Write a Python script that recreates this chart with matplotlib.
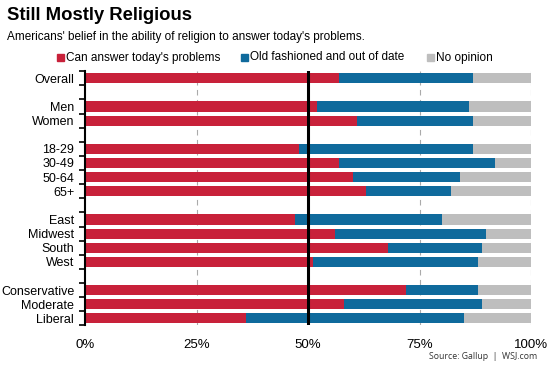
import numpy as np
import matplotlib.pyplot as plt
from matplotlib.patches import Rectangle

plt.rcParams['font.family'] = ['Liberation Sans', 'DejaVu Sans']

# Daten (Prozent)
labels = ["Overall", "", "Men", "Women", "", "18-29", "30-49", "50-64", "65+", "",
          "East", "Midwest", "South", "West", "", "Conservative", "Moderate", "Liberal"]
can_answer = [57, 0, 52, 61, 0, 48, 57, 60, 63, 0, 47, 56, 68, 51, 0, 72, 58, 36]
old_fashioned = [30, 0, 34, 26, 0, 39, 35, 24, 19, 0, 33, 34, 21, 37, 0, 16, 31, 49]
no_opinion = [13, 0, 14, 13, 0, 13, 8, 16, 18, 0, 20, 10, 11, 12, 0, 12, 11, 15]
x_ticks = [0, 25, 50, 75, 100]

red = "#C8213A"
blue = "#0F6A9C"
gray = "#BEBEBE"

fig = plt.figure(figsize=(5.53, 3.69), dpi=100)
ax = fig.add_axes([0.1543, 0.1182, 0.8059, 0.6888])

y = np.arange(len(labels))
can = np.array(can_answer)
old = np.array(old_fashioned)
no = np.array(no_opinion)

ax.barh(y, can, height=0.72, color=red, zorder=2)
ax.barh(y, old, left=can, height=0.72, color=blue, zorder=2)
ax.barh(y, no, left=can + old, height=0.72, color=gray, zorder=2)

ax.set_xlim(0, 100)
ax.set_ylim(len(labels) - 0.5, -0.5)

# Gitterlinien
for v in [25, 75, 100]:
    ax.axvline(v, color="#AAAAAA", lw=0.8, ls=(0, (5, 4)), zorder=1)
ax.axvline(50, color="black", lw=2.2, zorder=3)

ax.set_yticks(y)
ax.set_yticklabels(labels, fontsize=9)
ax.set_yticks(np.arange(-0.5, len(labels)), minor=True)
ax.tick_params(axis="y", which="major", length=0, pad=8)
ax.tick_params(axis="y", which="minor", length=4, width=1.2, direction="out")

ax.set_xticks(x_ticks)
ax.set_xticklabels([f"{v}%" for v in x_ticks], fontsize=9.5)
ax.tick_params(axis="x", length=0, pad=10)

for s in ["top", "right", "bottom"]:
    ax.spines[s].set_visible(False)
ax.spines["left"].set_linewidth(1.5)

# Titel
fig.text(0.013, 0.958, "Still Mostly Religious", fontsize=13.3, fontweight="bold", va="center")
fig.text(0.013, 0.9, "Americans' belief in the ability of religion to answer today's problems.",
         fontsize=8.5, va="center")

# Legende
leg_items = [(57, red, "Can answer today's problems"),
             (241, blue, "Old fashioned and out of date"),
             (427, gray, "No opinion")]
for xpx, c, t in leg_items:
    fig.patches.append(Rectangle((xpx / 553, 1 - 61 / 369), 7 / 553, 7 / 369,
                                 transform=fig.transFigure, color=c))
    fig.text((xpx + 8.5) / 553, 1 - 57.5 / 369, t, fontsize=8.5, va="center")

fig.text(0.972, 0.033, "Source: Gallup  |  WSJ.com", fontsize=6.3, ha="right", va="center",
         family="Open Sans", color="#333333")

plt.savefig("out.png", dpi=100)
